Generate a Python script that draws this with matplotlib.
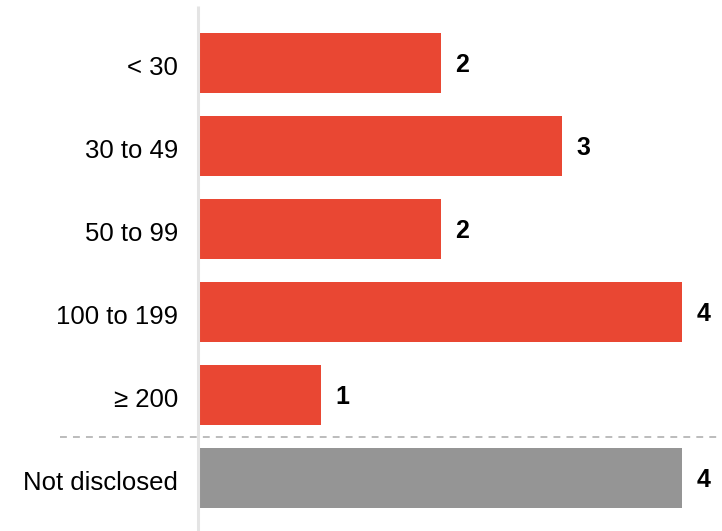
import matplotlib
matplotlib.use("Agg")
from matplotlib import pyplot as plt
from matplotlib.transforms import ScaledTranslation

plt.rcParams['font.family'] = ['Liberation Sans', 'DejaVu Sans']

categories = ["< 30", "30 to 49", "50 to 99", "100 to 199", "\u2265 200", "Not disclosed"]
values = [2, 3, 2, 4, 1, 4]
colors = ["#e94733"] * 5 + ["#959595"]

fig = plt.figure(figsize=(7.22, 5.31), dpi=100)
ax = fig.add_axes([200 / 722, 0, 522 / 722, 1])

pos = list(range(len(categories)))
ax.barh(pos, values, height=60 / 83, color=colors, left=0)

ax.set_xlim(0, 522 / 120.5)
ax.set_ylim((531 - 63) / 83, -63 / 83)

for y, v in zip(pos, values):
    ax.annotate(str(v), (v, y), xytext=(10.5, -1.5), textcoords="offset points",
                ha="left", va="center", fontsize=18, fontweight="bold", color="black")

# category labels sit left of the axis line
ax.set_yticks(pos)
ax.set_yticklabels(categories, fontsize=18.5)
ax.tick_params(axis="y", length=0, pad=16)
shift = ScaledTranslation(0, -2 / 72, fig.dpi_scale_trans)
for lbl in ax.get_yticklabels():
    lbl.set_transform(lbl.get_transform() + shift)
ax.set_xticks([])
for s in ax.spines.values():
    s.set_visible(False)

# light vertical axis rule
ax.plot([-2 / 120.5, -2 / 120.5], [(6 - 63) / 83, (531 - 63) / 83],
        color="#e4e4e4", lw=2.2, clip_on=False, solid_capstyle="butt")

# dashed divider above "Not disclosed"
ax.plot([-140 / 120.5, 524 / 120.5], [4.5, 4.5], color="#aaaaaa", lw=1.1,
        ls=(0, (4.5, 4)), clip_on=False)

fig.savefig("out.png", dpi=100)
